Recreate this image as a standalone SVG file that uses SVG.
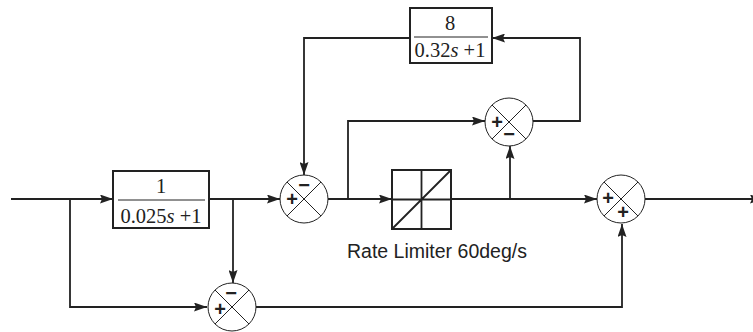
<svg xmlns="http://www.w3.org/2000/svg" width="753" height="332" viewBox="0 0 753 332">
<style>
.w{stroke:#222;stroke-width:1.8;fill:none}
.bx{stroke:#222;stroke-width:2;fill:#fff}
.sc{stroke:#222;stroke-width:1;fill:#fff}
.sx{stroke:#222;stroke-width:1}
.sg{font-family:"Liberation Sans",Arial,sans-serif;font-size:20px;font-weight:bold;fill:#222;text-anchor:middle;dominant-baseline:central}
.tf{font-family:"Liberation Serif","Times New Roman",serif;font-size:20.5px;fill:#222;text-anchor:middle}
.lb{font-family:"Liberation Sans",Arial,sans-serif;font-size:19.5px;fill:#222}
</style>
<defs>
<marker id="a" viewBox="0 0 13 9" refX="13" refY="4.5" markerWidth="13" markerHeight="9" markerUnits="userSpaceOnUse" orient="auto">
<path d="M0,0 L13,4.5 L0,9 L2,4.5 Z" fill="#222"/>
</marker>
</defs>
<g id="connectors">
<path class="w" d="M11,199 H113" marker-end="url(#a)"/>
<path class="w" d="M209,199 H280" marker-end="url(#a)"/>
<path class="w" d="M233,199 V283" marker-end="url(#a)"/>
<path class="w" d="M70,199 V307 H207" marker-end="url(#a)"/>
<path class="w" d="M328,199 H392" marker-end="url(#a)"/>
<path class="w" d="M348,199 V121 H485" marker-end="url(#a)"/>
<path class="w" d="M451,199 H597" marker-end="url(#a)"/>
<path class="w" d="M510,199 V146" marker-end="url(#a)"/>
<path class="w" d="M533,121 H580 V38 H492" marker-end="url(#a)"/>
<path class="w" d="M410,38 H304 V175" marker-end="url(#a)"/>
<path class="w" d="M645,199 H763" marker-end="url(#a)"/>
<path class="w" d="M256,307 H622 V224" marker-end="url(#a)"/>
</g>
<g id="tf1">
<rect class="bx" x="113" y="171" width="96" height="57"/>
<line class="sx" x1="118" y1="200" x2="205" y2="200"/>
<text class="tf" x="161" y="193">1</text>
<text class="tf" x="161" y="223">0.025<tspan font-style="italic">s</tspan> +1</text>
</g>
<g id="tf2">
<rect class="bx" x="410" y="8" width="82" height="55"/>
<line class="sx" x1="414" y1="37" x2="488" y2="37"/>
<text class="tf" x="450" y="30">8</text>
<text class="tf" x="450" y="57">0.32<tspan font-style="italic">s</tspan> +1</text>
</g>
<g id="sum1">
<circle class="sc" cx="304" cy="199" r="24"/>
<path class="sx" d="M287,182 L321,216 M321,182 L287,216"/>
<text class="sg" x="304" y="185">−</text>
<text class="sg" x="292" y="199">+</text>
</g>
<g id="sum2">
<circle class="sc" cx="509" cy="122" r="24"/>
<path class="sx" d="M492,105 L526,139 M526,105 L492,139"/>
<text class="sg" x="497" y="122">+</text>
<text class="sg" x="509" y="134">−</text>
</g>
<g id="sum3">
<circle class="sc" cx="621" cy="199" r="24"/>
<path class="sx" d="M604,182 L638,216 M638,182 L604,216"/>
<text class="sg" x="608" y="198">+</text>
<text class="sg" x="623" y="212">+</text>
</g>
<g id="sum4">
<circle class="sc" cx="232" cy="307" r="24"/>
<path class="sx" d="M215,290 L249,324 M249,290 L215,324"/>
<text class="sg" x="231" y="293">−</text>
<text class="sg" x="220" y="309">+</text>
</g>
<g id="ratelimiter">
<rect class="bx" x="392" y="170" width="59" height="59"/>
<path class="w" d="M421.5,170 V229 M392,199.5 H451 M392,229 L451,170"/>
<text class="lb" x="347" y="258">Rate Limiter 60deg/s</text>
</g>
</svg>
